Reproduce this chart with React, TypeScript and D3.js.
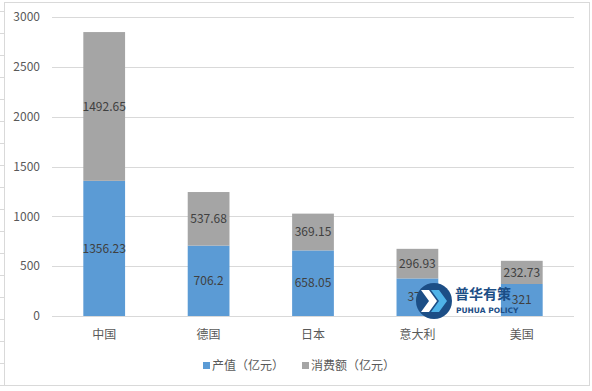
import React from 'react';
import * as d3 from 'd3';

const categories = ['中国', '德国', '日本', '意大利', '美国'];
const output = [1356.23, 706.2, 658.05, 377, 321];
const consumption = [1492.65, 537.68, 369.15, 296.93, 232.73];
const seriesNames = ['产值（亿元）', '消费额（亿元）'];
const yTicks = [0, 500, 1000, 1500, 2000, 2500, 3000];

const W = 592;
const H = 391;
const margin = { top: 17, right: 18, bottom: 75, left: 52 };
const colors = ['#5B9BD5', '#A5A5A5'];
const font = '"Noto Sans CJK SC", "Noto Sans", sans-serif';

const App = () => {
  const x = d3.scaleBand()
    .domain(categories)
    .range([margin.left, W - margin.right])
    .paddingInner(0.6)
    .paddingOuter(0.3);

  const y = d3.scaleLinear()
    .domain([0, 3000])
    .range([H - margin.bottom, margin.top]);

  const rows = categories.map((c, i) => ({ cat: c, a: output[i], b: consumption[i] }));
  const stacked = d3.stack<any>().keys(['a', 'b'])(rows);

  // little dash marks along the outer left edge
  const edgeTicks = d3.range(11, H - 5, 22);

  return (
    <svg width={W} height={H} style={{ position: 'absolute', left: 0, top: 0, background: '#fff' }}
      fontFamily={font}>
      <rect x={4.5} y={2.5} width={585} height={383} fill="#fff" stroke="#D9D9D9" />
      {edgeTicks.map(t => (
        <line key={t} x1={0} x2={4} y1={t + 0.5} y2={t + 0.5} stroke="#D9D9D9" />
      ))}

      {/* gridlines + y labels */}
      {yTicks.map(t => (
        <g key={t}>
          <line x1={margin.left} x2={W - margin.right} y1={Math.round(y(t)) + 0.5} y2={Math.round(y(t)) + 0.5}
            stroke="#D9D9D9" />
          <text x={40} y={y(t)} dy="0.35em" textAnchor="end" fontSize={12} fill="#595959">{t}</text>
        </g>
      ))}

      {/* bars */}
      {stacked.map((s, si) => (
        <g key={si} fill={colors[si]}>
          {s.map((d, i) => (
            <rect key={i} x={x(categories[i])} width={x.bandwidth()}
              y={y(d[1])} height={y(d[0]) - y(d[1])} />
          ))}
        </g>
      ))}

      {/* data labels */}
      {stacked.map((s, si) => (
        <g key={'l' + si}>
          {s.map((d, i) => (
            <text key={i} x={(x(categories[i]) as number) + x.bandwidth() / 2}
              y={y((d[0] + d[1]) / 2)} dy="0.35em" textAnchor="middle" fontSize={12} fill="#404040">
              {si === 0 ? output[i] : consumption[i]}
            </text>
          ))}
        </g>
      ))}

      {/* x labels */}
      {categories.map(c => (
        <text key={c} x={(x(c) as number) + x.bandwidth() / 2} y={y(0) + 19} dy="0.35em"
          textAnchor="middle" fontSize={12} fill="#595959">{c}</text>
      ))}

      {/* legend */}
      <g fontSize={12} fill="#595959">
        <rect x={203} y={362} width={7} height={7} fill={colors[0]} />
        <text x={212} y={366} dy="0.35em">{seriesNames[0]}</text>
        <rect x={302} y={362} width={7} height={7} fill={colors[1]} />
        <text x={311} y={366} dy="0.35em">{seriesNames[1]}</text>
      </g>

      {/* watermark logo */}
      <g>
        <circle cx={434} cy={301} r={18} fill="#1C4E86" />
        <path d="M421,290 L429,290 L437,301 L429,312 L421,312 L429,301 Z" fill="#ffffff" />
        <path d="M431,290 L439,290 L447,301 L439,312 L431,312 L439,301 Z" fill="#4FB3E8" />
        <text x={455} y={299} fontSize={14} fontWeight="bold" fill="#1C4E86">普华有策</text>
        <text x={456} y={313} fontSize={7.5} fontWeight="bold" fill="#1C4E86"
          fontFamily='"DejaVu Sans", sans-serif'>PUHUA POLICY</text>
      </g>
    </svg>
  );
};

export default App;
